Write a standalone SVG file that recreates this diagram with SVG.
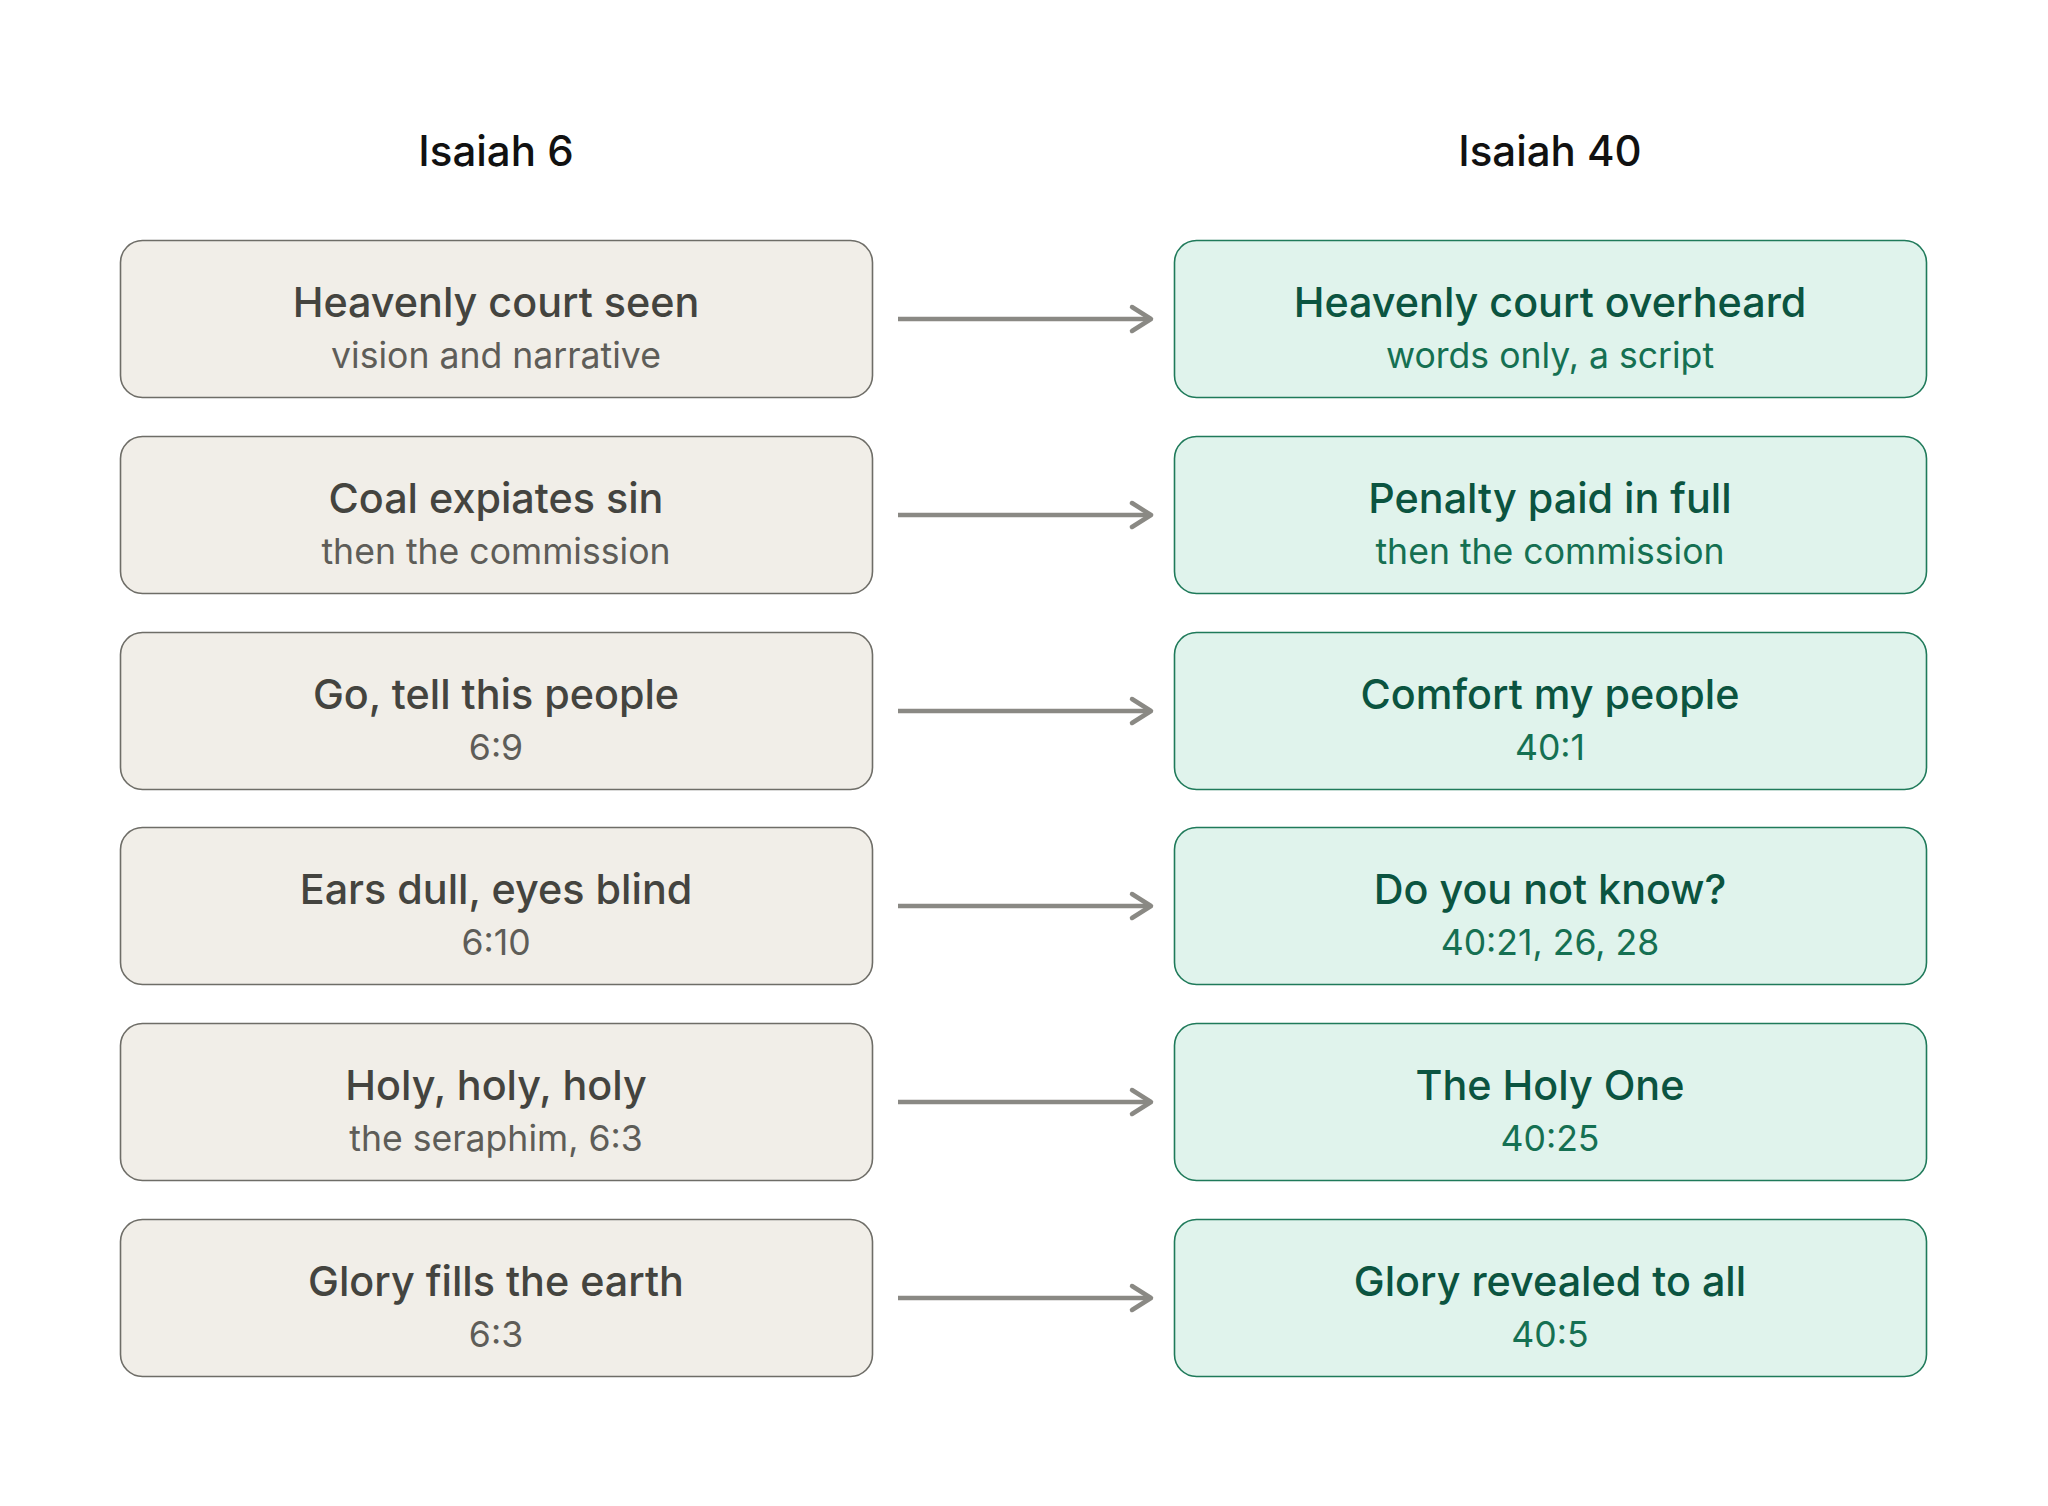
<svg xmlns="http://www.w3.org/2000/svg" width="2048" height="1506" viewBox="0 0 2048 1506">
<defs>
<style>
.bg{fill:#ffffff}
.title{font-family:Inter,"Noto Sans","Liberation Sans",sans-serif;font-size:42px;font-weight:500;fill:#111111;text-anchor:middle}
.lbox{fill:#f1eee8;stroke:#6e6d67;stroke-width:1.6}
.rbox{fill:#e0f3ec;stroke:#1f7a5a;stroke-width:1.6}
.main{font-family:Inter,"Noto Sans","Liberation Sans",sans-serif;font-size:41.3px;font-weight:500;text-anchor:middle}
.sub{font-family:Inter,"Noto Sans","Liberation Sans",sans-serif;font-size:35.6px;font-weight:400;text-anchor:middle}
.lm{fill:#44443f}
.ls{fill:#5e5d58}
.rm{fill:#0b5440}
.rs{fill:#157052}
.conn{stroke:#8a8984;stroke-width:4.5;fill:none}
.head{stroke:#8a8984;stroke-width:4.5;fill:none;stroke-linecap:round;stroke-linejoin:round}
</style>
</defs>
<rect class="bg" x="0" y="0" width="2048" height="1506"/>
<text class="title" x="496" y="166">Isaiah 6</text>
<text class="title" x="1550" y="166">Isaiah 40</text>

<g id="connectors">
<g><line class="conn" x1="898" y1="319" x2="1150" y2="319"/><polyline class="head" points="1132,307 1151,319 1132,331"/></g>
<g><line class="conn" x1="898" y1="515" x2="1150" y2="515"/><polyline class="head" points="1132,503 1151,515 1132,527"/></g>
<g><line class="conn" x1="898" y1="711" x2="1150" y2="711"/><polyline class="head" points="1132,699 1151,711 1132,723"/></g>
<g><line class="conn" x1="898" y1="906" x2="1150" y2="906"/><polyline class="head" points="1132,894 1151,906 1132,918"/></g>
<g><line class="conn" x1="898" y1="1102" x2="1150" y2="1102"/><polyline class="head" points="1132,1090 1151,1102 1132,1114"/></g>
<g><line class="conn" x1="898" y1="1298" x2="1150" y2="1298"/><polyline class="head" points="1132,1286 1151,1298 1132,1310"/></g>
</g>

<g id="l1"><rect class="lbox" x="120.5" y="240.5" width="752" height="157" rx="22"/><text class="main lm" x="496" y="317">Heavenly court seen</text><text class="sub ls" x="496" y="368">vision and narrative</text></g>
<g id="l2"><rect class="lbox" x="120.5" y="436.5" width="752" height="157" rx="22"/><text class="main lm" x="496" y="513">Coal expiates sin</text><text class="sub ls" x="496" y="564">then the commission</text></g>
<g id="l3"><rect class="lbox" x="120.5" y="632.5" width="752" height="157" rx="22"/><text class="main lm" x="496" y="709">Go, tell this people</text><text class="sub ls" x="496" y="760">6:9</text></g>
<g id="l4"><rect class="lbox" x="120.5" y="827.5" width="752" height="157" rx="22"/><text class="main lm" x="496" y="904">Ears dull, eyes blind</text><text class="sub ls" x="496" y="955">6:10</text></g>
<g id="l5"><rect class="lbox" x="120.5" y="1023.5" width="752" height="157" rx="22"/><text class="main lm" x="496" y="1100">Holy, holy, holy</text><text class="sub ls" x="496" y="1151">the seraphim, 6:3</text></g>
<g id="l6"><rect class="lbox" x="120.5" y="1219.5" width="752" height="157" rx="22"/><text class="main lm" x="496" y="1296">Glory fills the earth</text><text class="sub ls" x="496" y="1347">6:3</text></g>

<g id="r1"><rect class="rbox" x="1174.5" y="240.5" width="752" height="157" rx="22"/><text class="main rm" x="1550" y="317">Heavenly court overheard</text><text class="sub rs" x="1550" y="368">words only, a script</text></g>
<g id="r2"><rect class="rbox" x="1174.5" y="436.5" width="752" height="157" rx="22"/><text class="main rm" x="1550" y="513">Penalty paid in full</text><text class="sub rs" x="1550" y="564">then the commission</text></g>
<g id="r3"><rect class="rbox" x="1174.5" y="632.5" width="752" height="157" rx="22"/><text class="main rm" x="1550" y="709">Comfort my people</text><text class="sub rs" x="1550" y="760">40:1</text></g>
<g id="r4"><rect class="rbox" x="1174.5" y="827.5" width="752" height="157" rx="22"/><text class="main rm" x="1550" y="904">Do you not know?</text><text class="sub rs" x="1550" y="955">40:21, 26, 28</text></g>
<g id="r5"><rect class="rbox" x="1174.5" y="1023.5" width="752" height="157" rx="22"/><text class="main rm" x="1550" y="1100">The Holy One</text><text class="sub rs" x="1550" y="1151">40:25</text></g>
<g id="r6"><rect class="rbox" x="1174.5" y="1219.5" width="752" height="157" rx="22"/><text class="main rm" x="1550" y="1296">Glory revealed to all</text><text class="sub rs" x="1550" y="1347">40:5</text></g>
</svg>
